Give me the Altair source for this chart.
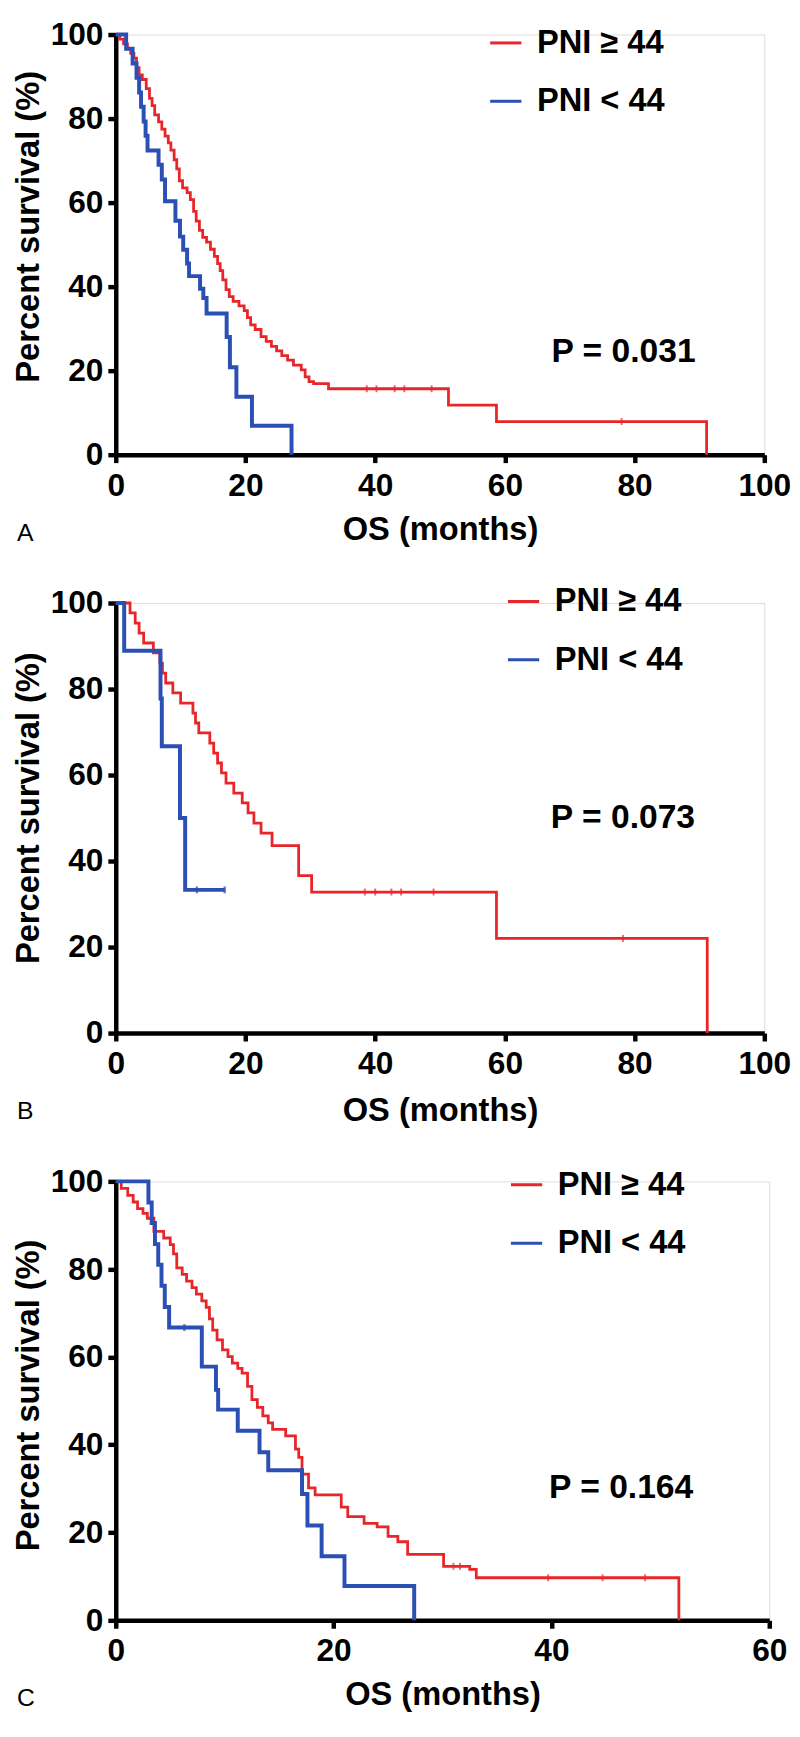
import altair as alt
import pandas as pd

RED = "#E8262A"
BLUE = "#2B4FB3"
HI = "PNI ≥ 44"
LO = "PNI < 44"
FONT = "Liberation Sans"

# ---------------- Panel A ----------------
a_hi_t = [0, 0.6, 1.2, 1.8, 2.3, 2.8, 3.2, 3.6, 4.1, 4.7, 5.2, 5.6, 6.0, 6.6, 7.1, 7.6, 8.1, 8.5, 9.0, 9.4,
          9.8, 10.3, 11.0, 11.5, 12.0, 12.4, 12.9, 13.4, 14.0, 14.6, 15.2, 15.7, 16.1, 16.5, 17.0, 17.5, 18.1, 19.0, 19.8, 20.3,
          20.8, 21.5, 22.4, 23.2, 24.0, 24.8, 25.6, 26.5, 27.4, 28.6, 29.2, 29.8, 30.5, 32.8, 51.3, 58.7, 91.1]
a_hi_s = [100, 98.9, 97.8, 96.6, 95.5, 94.4, 92.1, 90.4, 89.3, 87.1, 84.8, 83.1, 80.9, 79.2, 77.5, 75.8, 74.2, 72.5, 70.2, 68.0,
          65.2, 63.5, 62.4, 60.7, 57.9, 55.6, 53.4, 51.7, 50.6, 48.9, 47.2, 45.5, 43.8, 41.6, 39.3, 37.6, 36.5, 35.4, 34.3, 32.6,
          30.9, 29.8, 28.1, 27.0, 25.8, 24.7, 23.6, 22.5, 21.3, 20.2, 18.5, 17.4, 16.9, 15.7, 11.8, 7.9, 0]
a_hi_ct = [38.7, 40.2, 43.0, 44.5, 48.7, 78.0]
a_hi_cs = [15.7, 15.7, 15.7, 15.7, 15.7, 7.9]
a_lo_t = [0, 1.6, 2.6, 3.2, 3.6, 3.9, 4.3, 4.6, 4.9, 6.6, 7.1, 7.6, 9.2, 9.9, 10.4, 11.0, 11.3, 13.0, 13.5, 14.0,
          17.1, 17.6, 18.6, 21.0, 27.1]
a_lo_s = [100, 96.6, 93.1, 89.7, 86.2, 82.8, 79.3, 75.9, 72.4, 69.0, 65.5, 60.3, 55.7, 51.9, 48.8, 45.5, 42.5, 39.5, 37.3, 33.6,
          28.0, 20.8, 13.8, 6.9, 0]
a_lo_ct = []
a_lo_cs = []

# ---------------- Panel B ----------------
b_hi_t = [0, 2.2, 3.0, 3.6, 4.3, 5.8, 6.8, 7.2, 7.7, 8.8, 10.0, 11.9, 12.3, 12.8, 14.5, 15.1, 15.7, 16.3, 17.0, 18.2,
          19.5, 20.4, 21.3, 22.4, 24.1, 28.2, 30.2, 58.7, 91.2]
b_hi_s = [100, 97.7, 95.3, 93.0, 90.7, 88.4, 86.0, 83.7, 81.4, 79.1, 76.7, 74.4, 72.1, 69.8, 67.4, 65.1, 62.8, 60.5, 58.1, 55.8,
          53.5, 51.2, 48.8, 46.5, 43.6, 36.6, 32.8, 22.0, 0]
b_hi_ct = [38.4, 40.0, 42.5, 44.0, 49.0, 78.2]
b_hi_cs = [32.8, 32.8, 32.8, 32.8, 32.8, 22.0]
b_lo_t = [0, 1.3, 6.9, 7.1, 9.9, 10.7, 16.8]
b_lo_s = [100, 88.9, 77.8, 66.7, 50.0, 33.3, 33.3]
b_lo_ct = [12.5, 16.8]
b_lo_cs = [33.3, 33.3]

# ---------------- Panel C ----------------
c_hi_t = [0, 0.5, 1.1, 1.6, 2.0, 2.5, 2.9, 3.5, 4.4, 5.0, 5.3, 5.6, 6.1, 6.5, 7.0, 7.4, 7.9, 8.3, 8.6, 8.9,
          9.3, 9.8, 10.3, 10.7, 11.2, 11.6, 12.1, 12.5, 13.0, 13.5, 14.0, 14.4, 15.6, 16.5, 16.8, 17.1, 17.7, 18.3, 20.7, 21.3,
          22.8, 24.0, 25.0, 25.9, 26.8, 30.1, 32.5, 33.1, 51.7]
c_hi_s = [100, 98.4, 96.8, 95.3, 93.8, 92.7, 91.6, 88.6, 87.1, 85.6, 83.5, 80.3, 78.8, 77.3, 75.8, 74.3, 72.8, 71.3, 68.7, 66.1,
          63.9, 61.6, 60.1, 58.6, 57.4, 56.3, 53.3, 50.3, 48.5, 46.6, 45.0, 43.5, 42.0, 39.0, 37.1, 33.3, 30.2, 28.6, 25.8, 23.6,
          22.1, 21.3, 19.1, 17.9, 15.0, 12.3, 11.6, 9.7, 0]
c_hi_ct = [31.0, 31.6, 39.7, 44.7, 48.6]
c_hi_cs = [12.3, 12.3, 9.7, 9.7, 9.7]
c_lo_t = [0, 3.0, 3.3, 3.6, 3.9, 4.2, 4.5, 4.9, 7.9, 9.2, 9.4, 11.2, 13.2, 14.0, 17.1, 17.6, 18.9, 21.0, 27.4]
c_lo_s = [100, 95.2, 90.5, 85.7, 81.0, 76.2, 71.4, 66.7, 57.8, 52.5, 48.0, 43.2, 38.3, 34.2, 28.8, 21.6, 14.6, 7.8, 0]
c_lo_ct = [6.3]
c_lo_cs = [66.7]

# ---------------- annotations ----------------
p_labels = ["P = 0.031", "P = 0.073", "P = 0.164"]
p_x = [78.3, 78.2, 46.4]
p_y = [24.5, 50.0, 30.1]
letters = ["A", "B", "C"]
x_max = [100, 100, 60]
x_ticks = [[0, 20, 40, 60, 80, 100], [0, 20, 40, 60, 80, 100], [0, 20, 40, 60]]
y_ticks = [0, 20, 40, 60, 80, 100]

# layout (pixels)
widths = [656, 656, 661]
heights = [425, 435, 444]
legend_x = [377, 395, 398]
legend_y = [-9, -19, -14]
ytitle_y = [194, 207, 216]
xtitle_y = [86, 88, 85]


def panel(i, hi_t, hi_s, lo_t, lo_s, hi_ct, hi_cs, lo_ct, lo_cs):
    w, h = widths[i], heights[i]
    df_hi = pd.DataFrame({"t": hi_t, "s": hi_s, "g": HI})
    df_lo = pd.DataFrame({"t": lo_t, "s": lo_s, "g": LO})
    xs = alt.Scale(domain=[0, x_max[i]], nice=False, zero=True)
    ys = alt.Scale(domain=[0, 100], nice=False)
    xax = alt.Axis(values=x_ticks[i], title="OS (months)", grid=False,
                   labelFont=FONT, labelFontSize=32, labelFontWeight="bold", labelColor="black",
                   labelPadding=8, labelFlush=False, labelOverlap=False,
                   tickSize=8, tickWidth=4.5, tickColor="black",
                   domainColor="black", domainWidth=4.5,
                   titleFont=FONT, titleFontSize=33, titleFontWeight="bold", titleColor="black",
                   titleX=w / 2, titleY=xtitle_y[i], titleBaseline="alphabetic", titleAlign="center")
    yax = alt.Axis(values=y_ticks, title="Percent survival (%)", grid=False,
                   labelFont=FONT, labelFontSize=32, labelFontWeight="bold", labelColor="black",
                   labelPadding=5, labelOverlap=False,
                   tickSize=8, tickWidth=4.5, tickColor="black",
                   domainColor="black", domainWidth=4.5,
                   titleFont=FONT, titleFontSize=33, titleFontWeight="bold", titleColor="black",
                   titleX=-78, titleY=ytitle_y[i], titleBaseline="alphabetic", titleAlign="center",
                   titleAngle=270)
    color = alt.Color("g:N", scale=alt.Scale(domain=[HI, LO], range=[RED, BLUE]),
                      legend=alt.Legend(title=None, orient="none", legendX=legend_x[i], legendY=legend_y[i],
                                        symbolType="stroke", symbolSize=1000, symbolStrokeWidth=3,
                                        labelFont=FONT, labelFontSize=33, labelFontWeight="bold",
                                        labelColor="black", labelOffset=14, rowPadding=24,
                                        labelLimit=400, direction="vertical"))
    red = alt.Chart(df_hi).mark_line(interpolate="step-after", strokeWidth=2.8).encode(
        x=alt.X("t:Q", scale=xs, axis=xax), y=alt.Y("s:Q", scale=ys, axis=yax), color=color)
    blue = alt.Chart(df_lo).mark_line(interpolate="step-after", strokeWidth=4).encode(
        x=alt.X("t:Q", scale=xs), y=alt.Y("s:Q", scale=ys), color=color)
    layers = [red, blue]
    if hi_ct:
        layers.append(alt.Chart(pd.DataFrame({"t": hi_ct, "s": hi_cs})).mark_tick(
            orient="vertical", size=7, thickness=2, color=RED).encode(
            x=alt.X("t:Q", scale=xs), y=alt.Y("s:Q", scale=ys)))
    if lo_ct:
        layers.append(alt.Chart(pd.DataFrame({"t": lo_ct, "s": lo_cs})).mark_tick(
            orient="vertical", size=7, thickness=2.5, color=BLUE).encode(
            x=alt.X("t:Q", scale=xs), y=alt.Y("s:Q", scale=ys)))
    ptxt = alt.Chart(pd.DataFrame({"t": [p_x[i]], "s": [p_y[i]], "lab": [p_labels[i]]})).mark_text(
        font=FONT, fontSize=34, fontWeight="bold", color="black", align="center", baseline="middle").encode(
        x=alt.X("t:Q", scale=xs), y=alt.Y("s:Q", scale=ys), text="lab:N")
    letter = alt.Chart(pd.DataFrame({"lab": [letters[i]]})).mark_text(
        font=FONT, fontSize=25, fontWeight="normal", color="black", align="left", baseline="alphabetic").encode(
        x=alt.value(-100), y=alt.value(h + 87), text="lab:N")
    layers += [ptxt, letter]
    return alt.layer(*layers).properties(width=w, height=h)


pa = panel(0, a_hi_t, a_hi_s, a_lo_t, a_lo_s, a_hi_ct, a_hi_cs, a_lo_ct, a_lo_cs)
pb = panel(1, b_hi_t, b_hi_s, b_lo_t, b_lo_s, b_hi_ct, b_hi_cs, b_lo_ct, b_lo_cs)
pc = panel(2, c_hi_t, c_hi_s, c_lo_t, c_lo_s, c_hi_ct, c_hi_cs, c_lo_ct, c_lo_cs)

chart = alt.vconcat(pa, pb, pc, spacing=150, bounds="flush").resolve_scale(
    x="independent", y="independent").resolve_legend(color="independent").properties(
    padding={"left": 4, "top": 0, "right": 0, "bottom": 0}).configure_view(stroke=None).configure(background="white")

chart.save("out.html", embed_options={"renderer": "svg", "actions": False})
